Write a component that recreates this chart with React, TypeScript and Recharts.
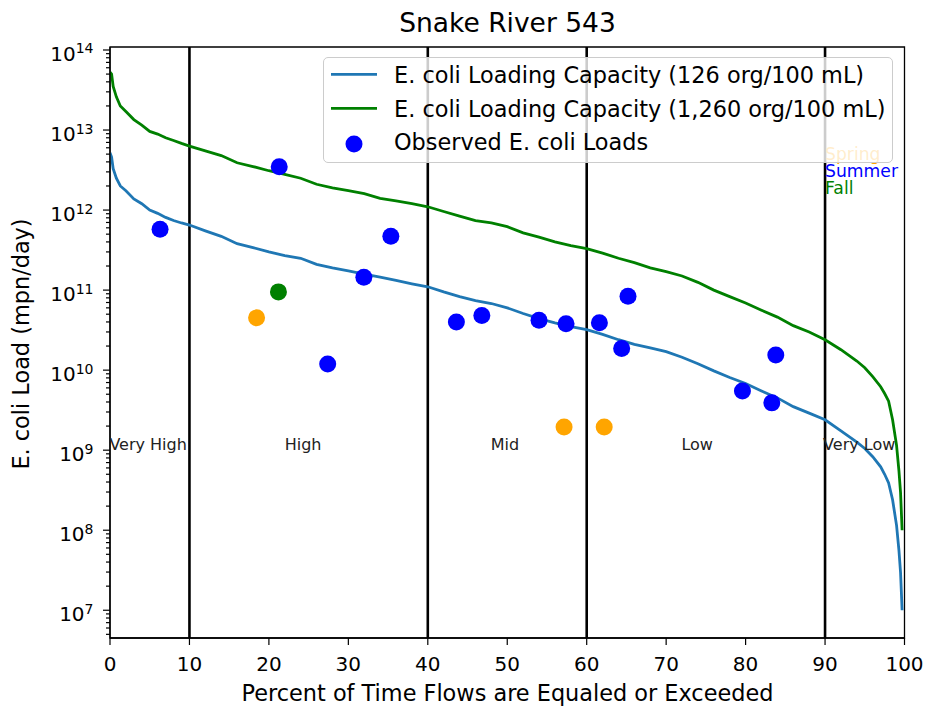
import React from 'react';
import {
  ComposedChart,
  Line,
  Scatter,
  XAxis,
  YAxis,
  ReferenceLine,
  ReferenceArea,
  Legend,
} from 'recharts';

// Percent of time flows are equaled or exceeded
const flowPercent = [
  0, 0.2, 0.4, 0.8, 1.3, 2, 3, 4, 5, 6, 7, 8, 9, 10, 12, 14, 16, 18, 20, 22, 24, 26, 28, 30,
  32, 34, 36, 38, 40, 42, 44, 46, 48, 50, 52, 54, 56, 58, 60, 62, 64, 66, 68, 70, 72, 74, 76,
  78, 80, 82, 84, 86, 88, 90, 92, 94, 95, 96, 97, 97.5, 98, 98.5, 99, 99.3, 99.5, 99.7,
];

// E. coli loading capacity (126 org/100 mL)
const capacity126 = [
  5.2e12, 4.6e12, 3.3e12, 2.5e12, 2.0e12, 1.74e12, 1.38e12, 1.2e12, 1.0e12, 9.1e11, 8.1e11,
  7.4e11, 6.9e11, 6.5e11, 5.5e11, 4.7e11, 3.8e11, 3.4e11, 3.0e11, 2.7e11, 2.5e11, 2.1e11,
  1.9e11, 1.74e11, 1.58e11, 1.45e11, 1.32e11, 1.2e11, 1.1e11, 9.5e10, 8.3e10, 7.4e10, 6.8e10,
  6.0e10, 5.1e10, 4.4e10, 3.9e10, 3.5e10, 3.2e10, 2.8e10, 2.4e10, 2.1e10, 1.9e10, 1.7e10,
  1.45e10, 1.2e10, 9.8e9, 8.1e9, 6.8e9, 5.5e9, 4.5e9, 3.5e9, 2.9e9, 2.4e9, 1.74e9, 1.26e9,
  1.05e9, 8.3e8, 6.2e8, 5.0e8, 3.9e8, 2.4e8, 1.15e8, 5.6e7, 3.0e7, 1.0e7,
];

// E. coli loading capacity (1,260 org/100 mL)
const capacity1260 = [
  5.3e13, 5.0e13, 3.5e13, 2.6e13, 2.0e13, 1.7e13, 1.35e13, 1.15e13, 9.6e12, 8.9e12, 8.0e12,
  7.4e12, 6.8e12, 6.3e12, 5.5e12, 4.8e12, 3.9e12, 3.5e12, 3.1e12, 2.8e12, 2.5e12, 2.1e12,
  1.9e12, 1.75e12, 1.6e12, 1.4e12, 1.3e12, 1.2e12, 1.1e12, 9.6e11, 8.4e11, 7.4e11, 6.9e11,
  6.2e11, 5.2e11, 4.6e11, 4.0e11, 3.6e11, 3.3e11, 2.9e11, 2.5e11, 2.2e11, 1.9e11, 1.7e11,
  1.5e11, 1.25e11, 1.0e11, 8.3e10, 6.9e10, 5.6e10, 4.6e10, 3.6e10, 3.0e10, 2.4e10, 1.8e10,
  1.3e10, 1.07e10, 8.3e9, 6.2e9, 5.1e9, 4.1e9, 2.4e9, 1.15e9, 5.5e8, 3.0e8, 1.0e8,
];

// Observed loads by season
const summerObserved = [
  { x: 6.3, y: 5.75e11 },
  { x: 21.3, y: 3.47e12 },
  { x: 27.4, y: 1.19e10 },
  { x: 31.95, y: 1.45e11 },
  { x: 35.35, y: 4.7e11 },
  { x: 43.6, y: 4.0e10 },
  { x: 46.8, y: 4.8e10 },
  { x: 54.0, y: 4.2e10 },
  { x: 57.4, y: 3.8e10 },
  { x: 61.6, y: 3.9e10 },
  { x: 64.4, y: 1.86e10 },
  { x: 65.2, y: 8.4e10 },
  { x: 79.6, y: 5.5e9 },
  { x: 83.3, y: 3.9e9 },
  { x: 83.8, y: 1.55e10 },
];
const fallObserved = [{ x: 21.2, y: 9.5e10 }];
const springObserved = [
  { x: 18.45, y: 4.5e10 },
  { x: 57.15, y: 1.95e9 },
  { x: 62.2, y: 1.95e9 },
];

// Flow regime boundaries and labels
const regimeBoundaries = [10, 40, 60, 90];
const regimeLabels = [
  { x: 4.8, y: 1e9, label: 'Very High' },
  { x: 24.3, y: 1e9, label: 'High' },
  { x: 49.7, y: 1e9, label: 'Mid' },
  { x: 73.9, y: 1e9, label: 'Low' },
  { x: 94.3, y: 1e9, label: 'Very Low' },
];

// Season key text (one anchor, stacked lines)
const seasonNames = ['Spring', 'Summer', 'Fall'];
const seasonColors = ['#ffa500', '#0000ff', '#008000'];
const seasonAnchor = [{ x: 90, y: 4.2e12 }];

const xTicks = [0, 10, 20, 30, 40, 50, 60, 70, 80, 90, 100];
const yDomain = [4.5e6, 1.09e14];

const legendLabels = [
  'E. coli Loading Capacity (126 org/100 mL)',
  'E. coli Loading Capacity (1,260 org/100 mL)',
  'Observed E. coli Loads',
];
const legendColors = ['#1f77b4', '#008000', '#0000ff'];
const legendKinds = ['line', 'line', 'dot'];

const FONT = 'DejaVu Sans';

const chartData = flowPercent.map((x, i) => ({
  x,
  low: capacity126[i],
  high: capacity1260[i],
}));

// all y ticks (major + minor), minor at 2..9 x 10^n inside domain
const yTicks: number[] = [];
for (let e = 6; e <= 14; e++) {
  for (let m = 1; m <= 9; m++) {
    const v = m * Math.pow(10, e);
    if (v >= yDomain[0] && v <= yDomain[1]) yTicks.push(v);
  }
}

const YTick = (props: any) => {
  const { x, y, payload } = props;
  const v = payload.value;
  const lg = Math.log10(v);
  const exp = Math.round(lg);
  const major = Math.abs(lg - exp) < 1e-6;
  return (
    <g>
      <line x1={x - (major ? 7 : 4)} x2={x} y1={y} y2={y} stroke="#000" strokeWidth={1.2} />
      {major && (
        <text
          x={x - 16.5}
          y={y + 11}
          textAnchor="end"
          fontSize={20}
          fill="#000"
          fontFamily={FONT}
        >
          10
          <tspan fontSize={14} dy={-7.5}>
            {exp}
          </tspan>
        </text>
      )}
    </g>
  );
};

const XTick = (props: any) => {
  const { x, y, payload } = props;
  return (
    <g>
      <line x1={x} x2={x} y1={y} y2={y + 7} stroke="#000" strokeWidth={1.2} />
      <text x={x} y={y + 33} textAnchor="middle" fontSize={20} fill="#000" fontFamily={FONT}>
        {payload.value}
      </text>
    </g>
  );
};

const dotShape = (color: string) => (p: any) =>
  <circle cx={p.cx} cy={p.cy} r={8.5} fill={color} />;

const regimeShape = (p: any) => (
  <text x={p.cx} y={p.cy} textAnchor="middle" fontSize={16} fill="#222" fontFamily={FONT}>
    {p.payload.label}
  </text>
);

const seasonShape = (p: any) => (
  <text x={p.cx} y={p.cy} textAnchor="start" fontSize={17.2} fontFamily={FONT}>
    {seasonNames.map((n, i) => (
      <tspan key={n} x={p.cx} dy={i === 0 ? 0 : 17} fill={seasonColors[i]}>
        {n}
      </tspan>
    ))}
  </text>
);

const renderLegend = () => (
  <div
    style={{
      position: 'relative',
      width: 570,
      height: 106,
      boxSizing: 'border-box',
      border: '1.3px solid #cccccc',
      borderRadius: 5,
      background: 'rgba(255,255,255,0.8)',
    }}
  >
    <svg
      width={570}
      height={106}
      style={{ position: 'absolute', left: -1.3, top: -1.3, overflow: 'visible' }}
    >
      {legendLabels.map((label, i) => {
        const cy = [17.3, 51.3, 87][i];
        const by = [25.9, 59.6, 93][i];
        return (
          <g key={label}>
            {legendKinds[i] === 'line' ? (
              <line x1={8} x2={54} y1={cy} y2={cy} stroke={legendColors[i]} strokeWidth={2.8} />
            ) : (
              <circle cx={31} cy={cy} r={8.5} fill={legendColors[i]} />
            )}
            <text x={71} y={by} fontSize={22.4} fill="#000" fontFamily={FONT}>
              {label}
            </text>
          </g>
        );
      })}
    </svg>
  </div>
);

export default function App() {
  return (
    <div style={{ position: 'absolute', left: 0, top: 0, width: 926, height: 706, background: '#fff' }}>
      <ComposedChart
        width={926}
        height={706}
        data={chartData}
        margin={{ top: 47, right: 21.5, bottom: 0, left: 0 }}
        style={{ fontFamily: FONT }}
      >
        <XAxis
          dataKey="x"
          type="number"
          domain={[0, 100]}
          ticks={xTicks}
          interval={0}
          allowDataOverflow
          height={68}
          tickSize={0}
          tickMargin={0}
          tickLine={false}
          tick={<XTick />}
          axisLine={{ stroke: '#000', strokeWidth: 1.3 }}
        />
        <YAxis
          type="number"
          scale="log"
          domain={yDomain}
          allowDataOverflow
          ticks={yTicks}
          interval={0}
          width={110}
          tickSize={0}
          tickMargin={0}
          tickLine={false}
          tick={<YTick />}
          axisLine={{ stroke: '#000', strokeWidth: 1.3 }}
        />
        <ReferenceArea
          x1={0}
          x2={100}
          y1={yDomain[0]}
          y2={yDomain[1]}
          fill="none"
          fillOpacity={0}
          stroke="#000"
          strokeWidth={1.3}
          ifOverflow="visible"
        />
        {regimeBoundaries.map((b) => (
          <ReferenceLine key={b} x={b} stroke="#000" strokeWidth={2.6} />
        ))}
        <Line
          dataKey="low"
          type="linear"
          stroke="#1f77b4"
          strokeWidth={2.8}
          dot={false}
          activeDot={false}
          isAnimationActive={false}
        />
        <Line
          dataKey="high"
          type="linear"
          stroke="#008000"
          strokeWidth={2.8}
          dot={false}
          activeDot={false}
          isAnimationActive={false}
        />
        <Scatter data={summerObserved} dataKey="y" shape={dotShape('#0000ff')} isAnimationActive={false} />
        <Scatter data={fallObserved} dataKey="y" shape={dotShape('#008000')} isAnimationActive={false} />
        <Scatter data={springObserved} dataKey="y" shape={dotShape('#ffa500')} isAnimationActive={false} />
        <Scatter data={regimeLabels} dataKey="y" shape={regimeShape} isAnimationActive={false} />
        <Scatter data={seasonAnchor} dataKey="y" shape={seasonShape} isAnimationActive={false} />
        <Legend
          layout="vertical"
          align="center"
          verticalAlign="middle"
          content={renderLegend}
          wrapperStyle={{ left: 323, top: 57, width: 570, height: 106 }}
        />
      </ComposedChart>
      <svg
        width={926}
        height={706}
        style={{ position: 'absolute', left: 0, top: 0, pointerEvents: 'none' }}
      >
        <text x={507.5} y={32} textAnchor="middle" fontSize={26.5} fill="#000" fontFamily={FONT}>
          Snake River 543
        </text>
        <text x={507.5} y={700.5} textAnchor="middle" fontSize={22.4} fill="#000" fontFamily={FONT}>
          Percent of Time Flows are Equaled or Exceeded
        </text>
        <text
          x={29.3}
          y={344}
          textAnchor="middle"
          fontSize={22.4}
          fill="#000"
          fontFamily={FONT}
          transform="rotate(-90, 29.3, 344)"
        >
          E. coli Load (mpn/day)
        </text>
      </svg>
    </div>
  );
}
